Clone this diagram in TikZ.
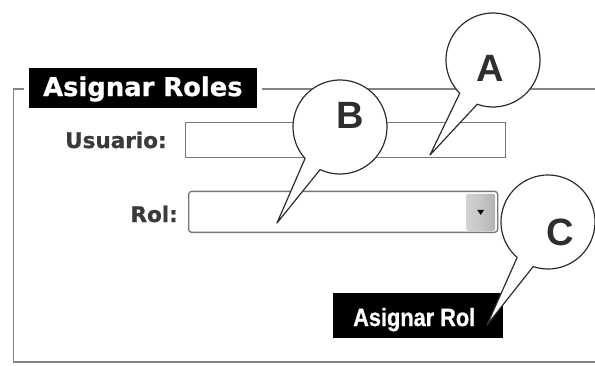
\documentclass[tikz,border=0pt]{standalone}
\usepackage{fontspec}
\setmainfont{DejaVu Sans}
\newfontfamily\heavyfont[FakeBold=0.8]{DejaVu Sans Bold}
\newfontfamily\arialfont{Liberation Sans}
\newfontfamily\arialheavy[FakeBold=0.9]{Liberation Sans Bold}
\usetikzlibrary{calc}
\definecolor{framegray}{HTML}{858585}
\definecolor{labelgray}{HTML}{3A3A3A}
\definecolor{boxgray}{HTML}{777777}
\definecolor{ink}{HTML}{2E2E2E}
\tikzset{
  frameline/.style={draw=framegray, line width=1.6pt},
  fieldlabel/.style={inner sep=0pt, text=labelgray, font=\heavyfont\fontsize{21.5}{22}\selectfont},
  inputbox/.style={draw=boxgray, line width=1.3pt, fill=white},
  callout/.style={draw=ink, line width=1.2pt, fill=white, line join=round},
  calloutletter/.style={inner sep=0pt, text=ink, font=\arialfont\fontsize{38}{38}\selectfont\bfseries},
  blackbox/.style={fill=black, draw=black}
}
\begin{document}
\begin{tikzpicture}[x=1pt,y=1pt]
\useasboundingbox (0,0) rectangle (595,365);
\fill[white] (0,0) rectangle (595,365);

% fieldset frame with a gap for the legend
\draw[frameline] (24,276) -- (13.5,276) -- (13.5,3) -- (595,3);
\draw[frameline] (262,276) -- (595,276);

% legend
\node[blackbox, minimum width=227pt, minimum height=39pt, inner sep=0pt, anchor=south west] (legend) at (29,258) {};
\node[inner sep=0pt, anchor=base west, text=white, font=\heavyfont\fontsize{25.8}{26}\selectfont] (legendtext) at (43,269) {Asignar Roles};

% user field
\node[fieldlabel, anchor=base west] (userlbl) at (65,217) {Usuario:};
\node[inputbox, minimum width=320pt, minimum height=35pt, inner sep=0pt, anchor=south west] (userbox) at (185,207) {};

% role drop-down
\node[fieldlabel, anchor=base east] (rollbl) at (178,143) {Rol:};
\node[inputbox, rounded corners=3pt, minimum width=309pt, minimum height=41pt, inner sep=0pt, anchor=south west] (rolbox) at (188,132) {};
\node[rounded corners=2pt, left color=gray!35, right color=gray!60, middle color=gray!45, minimum width=29pt, minimum height=37pt, inner sep=0pt, anchor=south west] (rolbtn) at (466,134) {};
\fill[black] ($(rolbtn.center)+(-3.5,2.5)$) -- ++(7,0) -- ++(-3.5,-5) -- cycle;

% submit button
\node[blackbox, minimum width=169pt, minimum height=44pt, inner sep=0pt, anchor=south west] (submit) at (333,28) {};
\node[inner sep=0pt, anchor=base west, text=white, font=\arialheavy\fontsize{25}{25}\selectfont] (submittext) at (353,39) {\scalebox{0.87}[1]{Asignar Rol}};

% callouts
\coordinate (ca) at (493,305);
\coordinate (tipA) at (430,210);
\path[callout] ([shift={(250.4:47)}]ca) arc[start angle=250.4, end angle=585, radius=47] -- (tipA) -- cycle;
\node[calloutletter] (letA) at (490,297) {A};

\coordinate (cb) at (340,238);
\coordinate (tipB) at (277,142);
\path[callout] ([shift={(245:47)}]cb) arc[start angle=245, end angle=582, radius=47] -- (tipB) -- cycle;
\node[calloutletter] (letB) at (350,250) {B};

\coordinate (cc) at (548,143);
\coordinate (tipC) at (487,40);
\path[callout] ([shift={(251.6:47)}]cc) arc[start angle=251.6, end angle=589, radius=47] -- (tipC) -- cycle;
\node[calloutletter] (letC) at (560,133) {C};
\end{tikzpicture}
\end{document}
